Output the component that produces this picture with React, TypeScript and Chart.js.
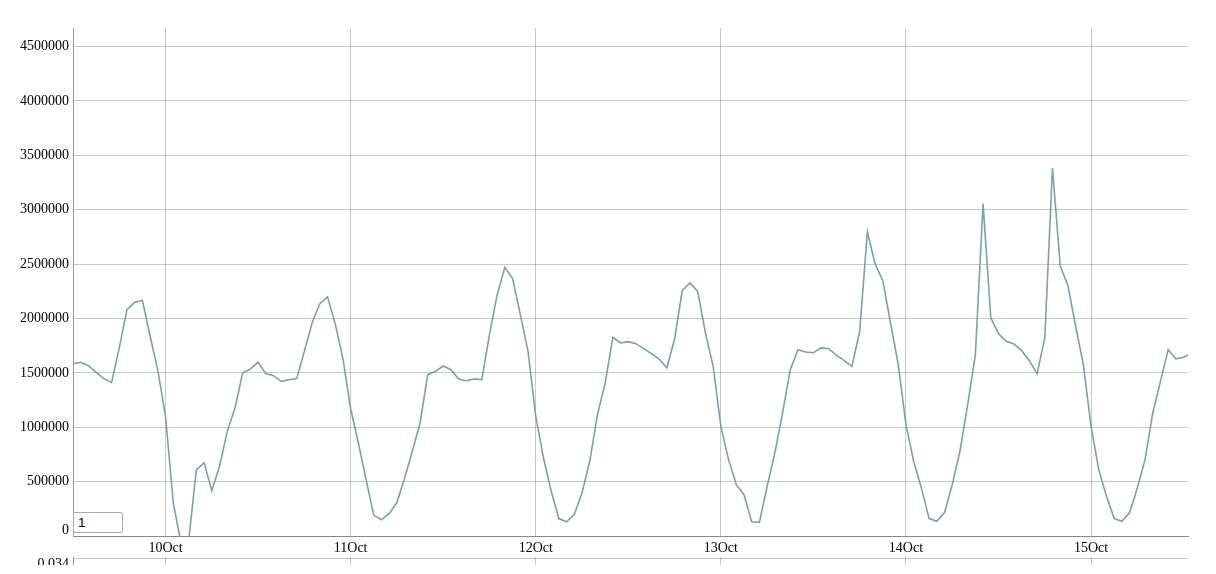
import React, { useEffect, useRef } from "react";
import { Chart, registerables } from "chart.js";

Chart.register(...registerables);

// ---- data (hourly values, starting 9 Oct 12:00) ----
const oct09 = [1584000, 1597000, 1566000, 1505000, 1447000, 1410000, 1729000, 2081000, 2148000, 2166000, 1836000, 1523000];
const oct10 = [1100000, 304000, -60000, -40000, 610000, 672000, 417000, 641000, 962000, 1177000, 1499000, 1536000, 1597000, 1493000, 1474000, 1422000, 1437000, 1447000, 1698000, 1958000, 2136000, 2198000, 1950000, 1630000];
const oct11 = [1170000, 855000, 518000, 190000, 150000, 205000, 310000, 534000, 779000, 1039000, 1483000, 1514000, 1563000, 1529000, 1444000, 1428000, 1444000, 1437000, 1851000, 2219000, 2470000, 2366000, 2035000, 1698000];
const oct12 = [1100000, 718000, 411000, 160000, 130000, 200000, 396000, 687000, 1116000, 1407000, 1826000, 1775000, 1787000, 1768000, 1722000, 1676000, 1627000, 1545000, 1811000, 2258000, 2326000, 2249000, 1867000, 1560000];
const oct13 = [1008000, 702000, 472000, 380000, 130000, 125000, 457000, 764000, 1131000, 1529000, 1713000, 1692000, 1685000, 1729000, 1722000, 1661000, 1612000, 1560000, 1882000, 2795000, 2501000, 2347000, 1958000, 1575000];
const oct14 = [1024000, 687000, 442000, 160000, 135000, 215000, 472000, 779000, 1208000, 1667000, 3055000, 2005000, 1860000, 1790000, 1766000, 1704000, 1612000, 1490000, 1821000, 3383000, 2485000, 2301000, 1928000, 1575000];
const oct15 = [1008000, 610000, 365000, 160000, 135000, 215000, 442000, 702000, 1131000, 1422000, 1713000, 1628000, 1643000, 1683000];

const series = [...oct09, ...oct10, ...oct11, ...oct12, ...oct13, ...oct14, ...oct15];

// x axis: hours since 9 Oct 12:00
const dayTickHours = [12, 36, 60, 84, 108, 132];
const dayTickLabels = ["10Oct", "11Oct", "12Oct", "13Oct", "14Oct", "15Oct"];
const xMinHours = 0;
const xMaxHours = 144.57;

// y axis
const yTickValues = [0, 500000, 1000000, 1500000, 2000000, 2500000, 3000000, 3500000, 4000000, 4500000];
const yMax = 4670000;

// lower (cut-off) panel
const lowerTickValues = [0.034];
const lowerMax = 0.0351;

const FAMILY = '"Liberation Serif", "Times New Roman", serif';
const GRID = "rgba(0,0,0,0.21)";
const LINE = "rgb(118,164,166)";

export default function App() {
  const mainRef = useRef<HTMLCanvasElement | null>(null);
  const lowerRef = useRef<HTMLCanvasElement | null>(null);

  useEffect(() => {
    const main = new Chart(mainRef.current as HTMLCanvasElement, {
      type: "line",
      data: {
        datasets: [
          {
            data: series.map((v, i) => ({ x: i, y: v })),
            borderColor: LINE,
            borderWidth: 1.6,
            pointRadius: 0,
            tension: 0,
            fill: false,
          },
        ],
      },
      options: {
        animation: false,
        responsive: false,
        maintainAspectRatio: false,
        events: [],
        layout: { padding: { left: 0, top: 28, right: 28, bottom: 0 } },
        plugins: { legend: { display: false }, tooltip: { enabled: false } },
        scales: {
          x: {
            type: "linear",
            min: xMinHours,
            max: xMaxHours,
            afterBuildTicks: (s: any) => {
              s.ticks = dayTickHours.map((v) => ({ value: v }));
            },
            afterFit: (s: any) => {
              s.height = 21;
            },
            ticks: {
              autoSkip: false,
              maxRotation: 0,
              padding: 4,
              color: "#000",
              font: { family: FAMILY, size: 14 },
              callback: (v: any) => {
                const i = dayTickHours.indexOf(Number(v));
                return i >= 0 ? dayTickLabels[i] : "";
              },
            },
            grid: { color: GRID, lineWidth: 1, drawTicks: false },
            border: { display: true, color: "#888", width: 1 },
          },
          y: {
            type: "linear",
            min: 0,
            max: yMax,
            afterBuildTicks: (s: any) => {
              s.ticks = yTickValues.map((v) => ({ value: v }));
            },
            afterFit: (s: any) => {
              s.width = 73;
            },
            ticks: {
              padding: 4,
              color: "#000",
              font: (ctx: any) => ({
                family: FAMILY,
                size: 14,
                lineHeight: ctx.tick && ctx.tick.value === 0 ? 11 / 14 : 1.2,
              }),
              callback: (v: any) => (Number(v) === 0 ? ["0", ""] : String(v)),
            },
            grid: { color: GRID, lineWidth: 1, drawTicks: false },
            border: { display: true, color: "#999", width: 1 },
          },
        },
      },
    } as any);

    const lower = new Chart(lowerRef.current as HTMLCanvasElement, {
      type: "line",
      data: { datasets: [] },
      options: {
        animation: false,
        responsive: false,
        maintainAspectRatio: false,
        events: [],
        layout: { padding: { left: 0, top: 17, right: 28, bottom: 0 } },
        plugins: { legend: { display: false }, tooltip: { enabled: false } },
        scales: {
          x: {
            type: "linear",
            min: xMinHours,
            max: xMaxHours,
            afterBuildTicks: (s: any) => {
              s.ticks = dayTickHours.map((v) => ({ value: v }));
            },
            afterFit: (s: any) => {
              s.height = 0;
            },
            ticks: { display: false },
            grid: { color: GRID, lineWidth: 1, drawTicks: false },
            border: { display: false },
          },
          y: {
            type: "linear",
            min: 0,
            max: lowerMax,
            afterBuildTicks: (s: any) => {
              s.ticks = lowerTickValues.map((v) => ({ value: v }));
            },
            afterFit: (s: any) => {
              s.width = 73;
            },
            ticks: {
              padding: 4,
              color: "#000",
              labelOffset: 5.5,
              font: { family: FAMILY, size: 14 },
              callback: (v: any) => String(v),
            },
            grid: { color: GRID, lineWidth: 1, drawTicks: false },
            border: { display: true, color: "#999", width: 1 },
          },
        },
      },
    } as any);

    return () => {
      main.destroy();
      lower.destroy();
    };
  }, []);

  return (
    <div style={{ position: "absolute", left: 0, top: 0, width: 1216, height: 574, background: "#fff" }}>
      <canvas
        ref={mainRef}
        width={1216}
        height={557}
        style={{ position: "absolute", left: 0, top: 0, width: 1216, height: 557, display: "block" }}
      />
      <div style={{ position: "absolute", left: 0, top: 540, width: 1216, height: 25, overflow: "hidden" }}>
        <canvas
          ref={lowerRef}
          width={1216}
          height={80}
          style={{ position: "absolute", left: 0, top: 0, width: 1216, height: 80, display: "block" }}
        />
      </div>
      <input
        type="text"
        defaultValue="1"
        style={{
          position: "absolute",
          left: 73,
          top: 512,
          width: 50,
          height: 21,
          boxSizing: "border-box",
          border: "1px solid #aaa",
          borderRadius: 2,
          padding: "1px 4px",
          fontSize: 13.33,
          fontFamily: '"Liberation Sans", Arial, sans-serif',
          background: "#fff",
          outline: "none",
        }}
      />
    </div>
  );
}
